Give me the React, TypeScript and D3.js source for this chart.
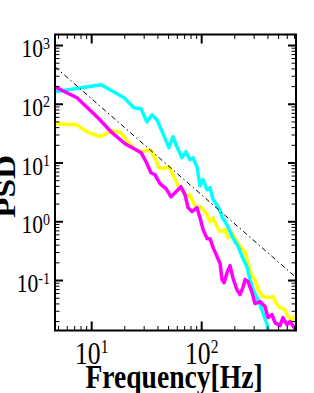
import React, { useEffect, useRef } from "react";
import * as d3 from "d3";

// values (Hz, PSD)
const cyanFreq = [4.64, 12.2, 19.7, 24.2, 28.1, 31.8, 35.3, 39.2, 45.4, 50.4, 54.8, 59.6, 66.2, 72, 78.3, 83.3, 90.6, 96.5, 103, 112, 119, 127, 141, 153, 163, 173, 189, 201, 214, 233, 258, 275, 293, 325, 361, 392, 401];
const cyanPsd = [163, 215, 129, 87, 84, 50, 66, 54.5, 29, 18.2, 28, 18.9, 12.3, 15.6, 11.4, 12.3, 8.65, 4.1, 5.2, 3.5, 3.8, 2.4, 1.81, 1.22, 1.0, 0.83, 0.56, 0.46, 0.38, 0.255, 0.172, 0.104, 0.07, 0.047, 0.028, 0.018, 0.0135];

const yellowFreq = [4.64, 7.2, 9.45, 11.9, 15.3, 18.5, 20.9, 24.8, 28.7, 33.9, 37.6, 40.9, 45.4, 50.4, 56, 60.9, 67.6, 73.5, 78.3, 83.3, 90.6, 96.5, 103, 112, 119, 127, 138, 147, 163, 173, 189, 209, 223, 248, 264, 287, 305, 325, 361, 401, 445, 484, 515, 572, 609, 662, 705];
const yellowPsd = [46.6, 44.8, 32.8, 28, 35.4, 32.8, 23.9, 16.8, 15.6, 16.8, 12.3, 8.3, 8.0, 8.65, 5.85, 4.11, 3.38, 2.67, 2.89, 2.2, 1.61, 1.81, 1.61, 1.32, 1.0, 1.17, 0.825, 0.679, 0.734, 0.537, 0.628, 0.459, 0.377, 0.31, 0.201, 0.116, 0.104, 0.07, 0.0532, 0.0512, 0.0532, 0.0389, 0.0346, 0.032, 0.0243, 0.0216, 0.0253];

const magentaFreq = [4.64, 7.35, 11.4, 15.3, 20.1, 25.3, 28.1, 31.2, 34.6, 37.6, 41.8, 47.4, 52.6, 58.4, 64.8, 70.5, 75.1, 81.6, 90.6, 96.5, 103, 112, 119, 127, 138, 147, 153, 160, 170, 181, 193, 209, 223, 237, 248, 264, 287, 305, 339, 376, 401, 436, 464, 515, 548, 596, 635, 691, 720];
const magentaPsd = [198, 129, 58.9, 32.8, 21.3, 16.8, 15.0, 10.5, 6.84, 6.32, 4.45, 3.66, 2.67, 3.25, 3.95, 2.89, 1.74, 1.49, 1.74, 1.17, 0.734, 0.516, 0.516, 0.363, 0.255, 0.194, 0.104, 0.092, 0.136, 0.179, 0.108, 0.07, 0.0576, 0.0757, 0.104, 0.0958, 0.0623, 0.0405, 0.0438, 0.036, 0.0234, 0.0263, 0.0192, 0.0171, 0.0234, 0.0178, 0.02, 0.0158, 0.0164];

// dash-dot reference slope
const refFreq = [4.64, 720];
const refPsd = [435, 0.113];

const xTickExp = [1, 2];
const yTickExp = [-1, 0, 1, 2, 3];

const series = [
  { freq: yellowFreq, psd: yellowPsd, color: "#ffff00" },
  { freq: cyanFreq, psd: cyanPsd, color: "#00ffff" },
  { freq: magentaFreq, psd: magentaPsd, color: "#ff00ff" },
];

const App = () => {
  const svgRef = useRef(null);
  const width = 314;
  const height = 393;

  useEffect(() => {
    const svg = d3.select(svgRef.current);
    svg.selectAll("*").remove();

    const left = 55, right = 296, top = 34.5, bottom = 330.5;
    const x = d3.scaleLog().domain([4.64, 720]).range([left, right]);
    const y = d3.scaleLog().domain([0.0141, 1540]).range([bottom, top]);

    svg.append("defs").append("clipPath").attr("id", "plotclip")
      .append("rect").attr("x", left).attr("y", top)
      .attr("width", right - left).attr("height", bottom - top);

    const isMajor = (v) => Math.abs(Math.log10(v) - Math.round(Math.log10(v))) < 1e-6;

    const lines = svg.append("g").attr("clip-path", "url(#plotclip)");
    const line = d3.line().x((d) => x(d[0])).y((d) => y(d[1]));

    series.forEach((s) => {
      lines.append("path")
        .attr("d", line(s.freq.map((f, i) => [f, s.psd[i]])))
        .attr("fill", "none")
        .attr("stroke", s.color)
        .attr("stroke-width", 3.5)
        .attr("stroke-linejoin", "round");
    });

    lines.append("path")
      .attr("d", line(refFreq.map((f, i) => [f, refPsd[i]])))
      .attr("fill", "none")
      .attr("stroke", "#000")
      .attr("stroke-width", 1)
      .attr("stroke-dasharray", "5,3,1.5,3");

    // ticks, all pointing inward on every side
    const ax = svg.append("g").attr("stroke", "#000");
    x.ticks().forEach((v) => {
      const len = isMajor(v) ? 9 : 4.5;
      const w = isMajor(v) ? 2 : 1;
      ax.append("line").attr("x1", x(v)).attr("x2", x(v)).attr("y1", bottom).attr("y2", bottom - len).attr("stroke-width", w);
      ax.append("line").attr("x1", x(v)).attr("x2", x(v)).attr("y1", top).attr("y2", top + len).attr("stroke-width", w);
    });
    y.ticks().forEach((v) => {
      const len = isMajor(v) ? 8 : 4.5;
      const w = isMajor(v) ? 2 : 1;
      ax.append("line").attr("y1", y(v)).attr("y2", y(v)).attr("x1", left).attr("x2", left + len).attr("stroke-width", w);
      ax.append("line").attr("y1", y(v)).attr("y2", y(v)).attr("x1", right).attr("x2", right - len).attr("stroke-width", w);
    });

    svg.append("rect")
      .attr("x", left).attr("y", top)
      .attr("width", right - left).attr("height", bottom - top)
      .attr("fill", "none").attr("stroke", "#000").attr("stroke-width", 2);

    const font = "'Liberation Serif', 'Times New Roman', serif";

    yTickExp.forEach((e) => {
      const t = svg.append("text")
        .attr("transform", `translate(50,${y(Math.pow(10, e)) + 11.5}) scale(1,1.2)`)
        .attr("text-anchor", "end")
        .attr("font-family", font)
        .attr("fill", "#000");
      t.append("tspan").attr("font-size", 21.6).text("10");
      t.append("tspan").attr("font-size", 14).attr("dy", -7).text(String(e));
    });

    xTickExp.forEach((e) => {
      const t = svg.append("text")
        .attr("transform", `translate(${x(Math.pow(10, e))},364) scale(1,1.2)`)
        .attr("text-anchor", "middle")
        .attr("font-family", font)
        .attr("fill", "#000");
      t.append("tspan").attr("font-size", 25.7).text("10");
      t.append("tspan").attr("font-size", 15.5).attr("dy", -8.9).text(String(e));
    });

    svg.append("text")
      .attr("transform", "translate(174,388) scale(1,1.2)")
      .attr("text-anchor", "middle")
      .attr("font-family", font)
      .attr("font-weight", "bold")
      .attr("font-size", 27.6)
      .text("Frequency[Hz]");

    svg.append("text")
      .attr("transform", "translate(14.5,186.5) scale(1,1.2) rotate(-90)")
      .attr("text-anchor", "middle")
      .attr("font-family", font)
      .attr("font-weight", "bold")
      .attr("font-size", 27.8)
      .text("PSD");
  }, []);

  return (
    <svg
      ref={svgRef}
      width={width}
      height={height}
      style={{ position: "absolute", left: 0, top: 0, background: "#fff" }}
    />
  );
};

export default App;
